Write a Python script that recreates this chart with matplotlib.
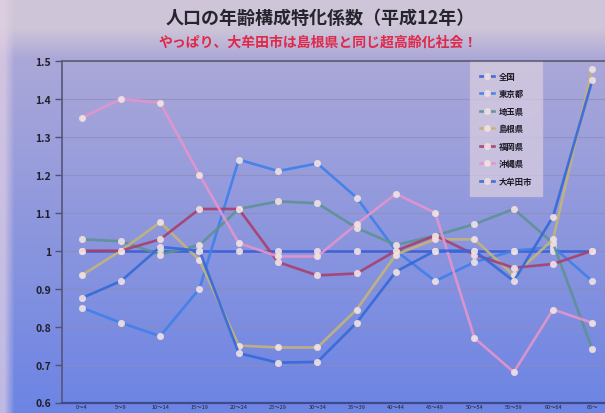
import numpy as np
import matplotlib
matplotlib.use("Agg")
import matplotlib.pyplot as plt

plt.rcParams['font.family'] = ['Noto Sans CJK JP', 'DejaVu Sans']

# Age groups (x categories)
ages = ['0～4', '5～9', '10～14', '15～19', '20～24', '25～29', '30～34',
        '35～39', '40～44', '45～49', '50～54', '55～59', '60～64', '65～']

# Specialization coefficients by region
zenkoku = [1.00, 1.00, 1.00, 1.00, 1.00, 1.00, 1.00, 1.00, 1.00, 1.00, 1.00, 1.00, 1.00, 1.00]
tokyo = [0.85, 0.81, 0.775, 0.90, 1.24, 1.21, 1.23, 1.14, 1.00, 0.92, 0.97, 1.00, 1.01, 0.92]
saitama = [1.03, 1.025, 0.99, 1.015, 1.11, 1.13, 1.125, 1.06, 1.015, 1.04, 1.07, 1.11, 1.02, 0.74]
shimane = [0.935, 1.00, 1.075, 0.975, 0.75, 0.745, 0.745, 0.845, 0.99, 1.03, 1.03, 0.935, 1.03, 1.48]
fukuoka = [1.00, 1.00, 1.03, 1.11, 1.11, 0.97, 0.935, 0.94, 1.00, 1.04, 0.99, 0.955, 0.965, 1.00]
okinawa = [1.35, 1.40, 1.39, 1.20, 1.02, 0.985, 0.985, 1.07, 1.15, 1.10, 0.77, 0.68, 0.845, 0.81]
omuta = [0.875, 0.92, 1.01, 1.00, 0.73, 0.705, 0.707, 0.81, 0.945, 1.00, 1.00, 0.92, 1.09, 1.45]

series = [
    ('全国', zenkoku, '#3b5fd4'),
    ('東京都', tokyo, '#3f80ea'),
    ('埼玉県', saitama, '#5e9294'),
    ('島根県', shimane, '#c4b478'),
    ('福岡県', fukuoka, '#a8406e'),
    ('沖縄県', okinawa, '#e494cc'),
    ('大牟田市', omuta, '#346ad8'),
]

W, H, DPI = 605, 414, 100
fig = plt.figure(figsize=(W / DPI, H / DPI), dpi=DPI)

# Screen-like background gradient
yy, xx = np.mgrid[0:H, 0:W]
t = yy / (H - 1)
top = np.array([182, 174, 214]) / 255.0
bot = np.array([108, 132, 228]) / 255.0
bg = top[None, None, :] * (1 - t[..., None]) + bot[None, None, :] * t[..., None]
# lighter band behind the titles
band = np.clip((58 - yy) / 30.0, 0, 1)[..., None]
bg = bg * (1 - band) + np.array([206, 198, 216])[None, None, :] / 255.0 * band
# pale strip along the left edge
edge = np.clip((14 - xx) / 10.0, 0, 1)[..., None]
bg = bg * (1 - edge * 0.7) + np.array([226, 208, 228])[None, None, :] / 255.0 * edge * 0.7
bgax = fig.add_axes([0, 0, 1, 1], zorder=0)
bgax.imshow(bg, aspect='auto', extent=[0, 1, 0, 1], interpolation='bilinear')
bgax.axis('off')

ax = fig.add_axes([62 / W, 10.5 / H, 550 / W, 341.5 / H], zorder=1)
ax.patch.set_alpha(0)

x = np.arange(len(ages))
for name, vals, col in series:
    ax.plot(x, vals, color=col, lw=1.9, alpha=0.9, label=name,
            marker='o', markersize=4.5, markerfacecolor='#f3e4e6',
            markeredgecolor='#eadada', markeredgewidth=0.6, zorder=3)

ax.set_xlim(-0.5, len(ages) - 0.5)
ax.set_ylim(0.6, 1.5)
yt = [0.6, 0.7, 0.8, 0.9, 1.0, 1.1, 1.2, 1.3, 1.4, 1.5]
ax.set_yticks(yt)
ax.set_yticklabels(['0.6', '0.7', '0.8', '0.9', '1', '1.1', '1.2', '1.3', '1.4', '1.5'],
                   fontsize=7.5, fontweight='bold', color='#202028')
ax.set_xticks(x)
ax.set_xticklabels(ages, fontsize=4.0, color='#202028')
ax.tick_params(axis='y', length=5, width=1, color='#505070', pad=3)
ax.tick_params(axis='x', length=0, width=1, color='#404080', pad=0.8)
ax.grid(axis='y', color='#8e8cb8', lw=0.8, alpha=0.7, zorder=1)
ax.set_axisbelow(True)
ax.spines['right'].set_visible(False)
ax.spines['left'].set_color('#55557a')
ax.spines['left'].set_linewidth(1.2)
ax.spines['top'].set_color('#5c5c74')
ax.spines['top'].set_linewidth(1.2)
ax.spines['bottom'].set_color('#3c4a90')
ax.spines['bottom'].set_linewidth(1.6)

leg = ax.legend(loc='upper left', bbox_to_anchor=(0.747, 0.99), fontsize=6,
                frameon=True, labelspacing=1.02, handlelength=1.6,
                handletextpad=0.6, borderpad=0.9, borderaxespad=0)
leg.get_frame().set_facecolor('#d8cde0')
leg.get_frame().set_alpha(0.75)
leg.get_frame().set_edgecolor('#d0c4dc')
leg.get_frame().set_boxstyle('square')
for txt in leg.get_texts():
    txt.set_fontweight('bold')
    txt.set_color('#1a1a24')

fig.text(0.53, 0.955, '人口の年齢構成特化係数（平成12年）', ha='center', va='center',
         fontsize=13, fontweight='bold', color='#26242c')
fig.text(0.525, 0.897, 'やっぱり、大牟田市は島根県と同じ超高齢化社会！', ha='center', va='center',
         fontsize=10, fontweight='bold', color='#e02848')

fig.savefig('out.png', dpi=DPI)
